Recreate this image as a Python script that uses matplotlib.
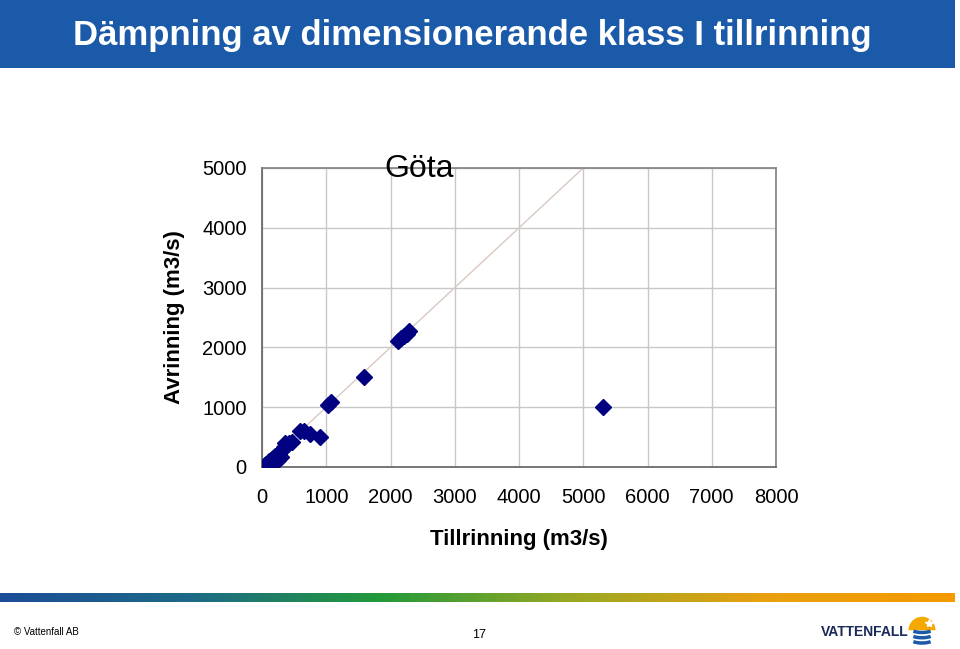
import numpy as np
import matplotlib
matplotlib.use("Agg")
import matplotlib.pyplot as plt
from matplotlib.patches import Rectangle, Wedge, Arc
from matplotlib.colors import LinearSegmentedColormap

plt.rcParams['font.family'] = ['Liberation Sans', 'DejaVu Sans']

# data (m3/s)
tillrinning = [10, 30, 50, 70, 90, 110, 140, 170, 200, 230, 260, 290, 320, 350,
               380, 420, 460, 150, 200, 250, 300, 358,
               590, 650, 740, 900,
               1020, 1070,
               1590,
               2110, 2170, 2210, 2250, 2290,
               5310]
avrinning = [5, 20, 40, 55, 70, 100, 120, 150, 180, 200, 230, 260, 300, 330,
             360, 400, 420, 60, 85, 110, 170, 395,
             600, 600, 560, 510,
             1040, 1090,
             1500,
             2100, 2150, 2190, 2230, 2270,
             1000]
line_x = [0, 5000]
line_y = [0, 5000]
x_ticks = [0, 1000, 2000, 3000, 4000, 5000, 6000, 7000, 8000]
y_ticks = [0, 1000, 2000, 3000, 4000, 5000]

W, H = 960, 649
fig = plt.figure(figsize=(W / 100, H / 100), dpi=100)

def fx(px):
    return px / W

def fy(py):
    return 1 - py / H

# title bar
fig.patches.append(Rectangle((0, fy(68)), fx(955), 68 / H, transform=fig.transFigure,
                             facecolor='#1a5aa8', edgecolor='none', zorder=0))
fig.text(fx(472), fy(36), 'Dämpning av dimensionerande klass I tillrinning',
         color='white', fontsize=25, fontweight='bold', ha='center', va='center')

# chart
ax = fig.add_axes([fx(262), fy(467), fx(776) - fx(262), (467 - 168) / H])
ax.plot(line_x, line_y, color='#d9c9c2', lw=1, zorder=2)
ax.plot(tillrinning, avrinning, linestyle='none', marker='D', markersize=8,
        color='#000080', markeredgecolor='#000080', zorder=3)
ax.set_xlim(0, 8000)
ax.set_ylim(0, 5000)
ax.set_xticks(x_ticks)
ax.set_yticks(y_ticks)
ax.grid(True, color='#c8c8c8', lw=1)
ax.set_axisbelow(True)
ax.tick_params(length=0, labelsize=14.5)
ax.tick_params(axis='y', pad=11)
ax.tick_params(axis='x', pad=15)
for s in ax.spines.values():
    s.set_color('#808080')
    s.set_linewidth(1.2)
ax.spines['left'].set_color('#606060')
ax.spines['bottom'].set_color('#606060')
ax.text(0.306, 0.995, 'Göta', transform=ax.transAxes, fontsize=23,
        ha='center', va='center')
ax.set_xlabel('Tillrinning (m3/s)', fontsize=16, fontweight='bold', labelpad=16)
ax.set_ylabel('Avrinning (m3/s)', fontsize=16, fontweight='bold', labelpad=12)

# gradient bar
gax = fig.add_axes([0, fy(602), fx(955), 9 / H])
cmap = LinearSegmentedColormap.from_list('vf', ['#1b4d98', '#1d6a86', '#239a3a',
                                                '#9aa823', '#e8a010', '#f59a00'])
gax.imshow(np.linspace(0, 1, 256)[None, :], aspect='auto', cmap=cmap)
gax.axis('off')

# footer
fig.text(fx(14), fy(632), '© Vattenfall AB', fontsize=7, va='center')
fig.text(fx(479), fy(635), '17', fontsize=9, ha='center', va='center')
fig.text(fx(865), fy(632), 'VATTENFALL', fontsize=10, fontweight='bold',
         color='#1a2a5a', ha='center', va='center')
lax = fig.add_axes([fx(907), fy(646), fx(30), 30 / H])
lax.set_xlim(-1, 1)
lax.set_ylim(-1, 1)
lax.set_aspect('equal')
lax.axis('off')
lax.add_patch(Wedge((0, 0.05), 0.9, 0, 180, facecolor='#f5a800', edgecolor='none'))
lax.plot([0.45], [0.55], marker='*', color='white', markersize=6)
for yy in [-0.1, -0.45, -0.8]:
    lax.add_patch(Arc((0, yy + 0.3), 1.6, 0.6, theta1=200, theta2=340, color='#1a5aa8', lw=2.5))

fig.savefig('out.png', dpi=100)
